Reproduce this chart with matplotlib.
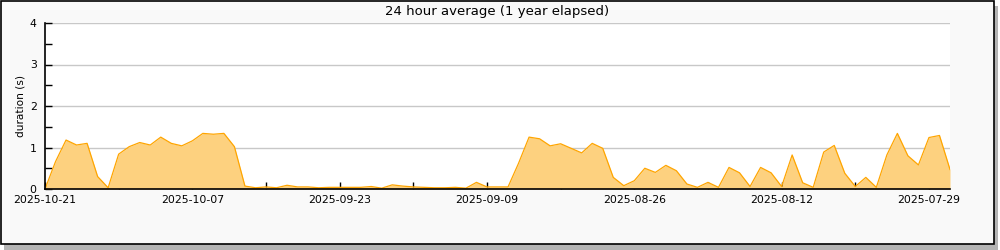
import numpy as np
import pandas as pd
import matplotlib
matplotlib.use('Agg')
import matplotlib.pyplot as plt
import matplotlib.dates as mdates
from matplotlib.patches import Rectangle

#=============== data (one value per day, newest first) ===============
start_day = "2025-10-21"
end_day = "2025-07-27"
durations = [
	0.00, 0.66, 1.18, 1.06, 1.10, 0.30, 0.03, 0.84, 1.02, 1.12,
	1.06, 1.25, 1.10, 1.04, 1.16, 1.34, 1.32, 1.34, 1.02, 0.07,
	0.03, 0.05, 0.03, 0.09, 0.05, 0.05, 0.03, 0.04, 0.04, 0.04,
	0.04, 0.06, 0.02, 0.10, 0.07, 0.05, 0.04, 0.03, 0.03, 0.04,
	0.02, 0.16, 0.05, 0.05, 0.05, 0.62, 1.25, 1.21, 1.04, 1.09,
	0.98, 0.87, 1.10, 0.98, 0.28, 0.08, 0.20, 0.50, 0.40, 0.57,
	0.44, 0.12, 0.04, 0.16, 0.04, 0.52, 0.39, 0.06, 0.52, 0.39,
	0.06, 0.82, 0.15, 0.04, 0.89, 1.05, 0.38, 0.06, 0.28, 0.04,
	0.82, 1.34, 0.80, 0.58, 1.24, 1.29, 0.47,
]
tick_days = ["2025-10-21", "2025-10-14", "2025-10-07", "2025-09-30", "2025-09-23",
	"2025-09-16", "2025-09-09", "2025-09-02", "2025-08-26", "2025-08-19",
	"2025-08-12", "2025-08-05", "2025-07-29"]
labelled_days = ["2025-10-21", "2025-10-07", "2025-09-23", "2025-09-09",
	"2025-08-26", "2025-08-12", "2025-07-29"]
title = "24 hour average (1 year elapsed)"
ylabel = "duration (s)"

days = pd.date_range(start=start_day, periods=len(durations), freq="-1D")
ticks = pd.to_datetime(tick_days)

fig = plt.figure(figsize=(10, 2.5), dpi=100)
fig.patch.set_facecolor("white")

#----- frame with drop shadow -----
fig.patches.append(Rectangle((0.004, 0.0), 0.994, 0.976, transform=fig.transFigure,
	facecolor="#b4b4b4", edgecolor="none", zorder=0))
fig.patches.append(Rectangle((0.0005, 0.026), 0.9935, 0.972, transform=fig.transFigure,
	facecolor="#f9f9f9", edgecolor="black", linewidth=1.2, zorder=1))

ax = fig.add_axes([0.045, 0.244, 0.905, 0.664])
ax.set_zorder(5)
ax.set_facecolor("white")

ax.fill_between(days, durations, 0, color="#fdd17f", linewidth=0, zorder=2)
ax.plot(days, durations, color="#ffa500", linewidth=0.9, zorder=3)

ax.set_xlim(pd.Timestamp(start_day), pd.Timestamp(end_day))
ax.set_ylim(0, 4)

ax.set_xticks(ticks)
ax.set_xticklabels([d if d in labelled_days else "" for d in tick_days])
ax.set_yticks([0, 1, 2, 3, 4])
ax.set_yticks([0.5, 1.5, 2.5, 3.5], minor=True)

ax.tick_params(axis="both", which="both", direction="in", length=5, width=1,
	labelsize=7.8, colors="black")
ax.tick_params(axis="x", which="major", pad=4)
ax.tick_params(axis="y", which="major", pad=6)

ax.grid(axis="y", which="major", color="#c8c8c8", linewidth=1)
ax.set_axisbelow(True)

for side in ["top", "right"]:
	ax.spines[side].set_visible(False)
for side in ["left", "bottom"]:
	ax.spines[side].set_linewidth(1.2)
	ax.spines[side].set_zorder(4)

ax.set_ylabel(ylabel, fontsize=7.6, labelpad=3)
fig.text(0.4975, 0.955, title, ha="center", va="center", fontsize=9.5,
	zorder=6)

fig.savefig("out.png", dpi=100)
